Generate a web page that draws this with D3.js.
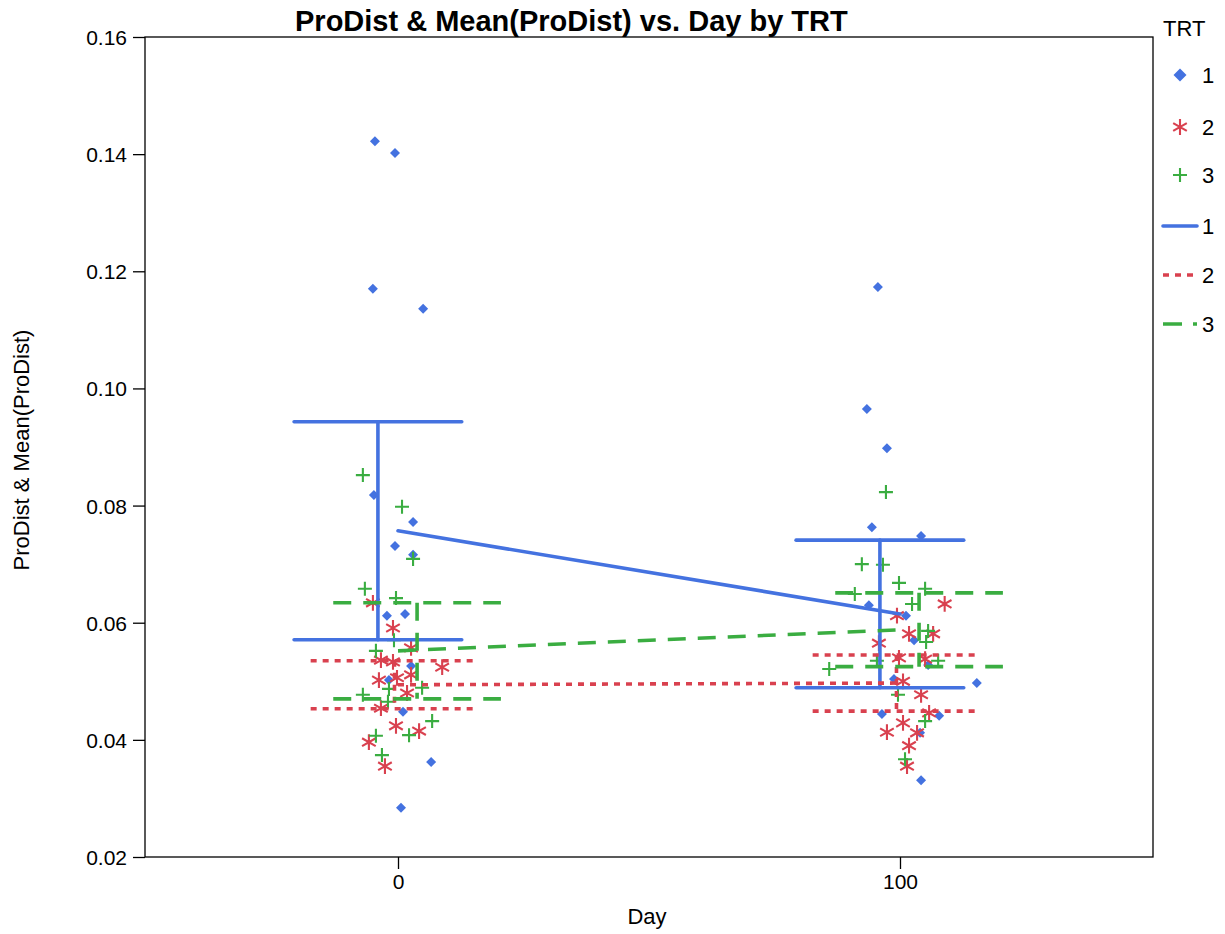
<!DOCTYPE html>
<html>
<head>
<meta charset="utf-8">
<script src="https://cdn.jsdelivr.net/npm/d3@7"></script>
<style>
  html, body { margin: 0; padding: 0; background: #fff; }
  svg text { font-family: "Liberation Sans", Arial, sans-serif; fill: #000; }
</style>
</head>
<body>
<svg id="chart" width="1225" height="934"></svg>
<script>
// ---- data ----
const groups = ["1", "2", "3"];
const dayTicks = [0, 100];
const valueTicks = [0.02, 0.04, 0.06, 0.08, 0.10, 0.12, 0.14, 0.16];

// raw observations (jittered day, ProDist) per TRT
const trt1Day = [-4.6, -0.6, -5.0, 5.0, -4.8, 3.0, -0.6, 3.0, -2.2, 1.4, 2.6, -1.8, 1.0, 6.6, 0.6,
                 95.6, 93.4, 97.4, 94.4, 104.2, 93.8, 101.2, 102.8, 98.8, 105.6, 96.4, 107.8, 104.0, 104.2, 115.3];
const trt1Val = [0.1422, 0.1402, 0.1170, 0.1136, 0.0818, 0.0772, 0.0731, 0.0716, 0.0612, 0.0615, 0.0526, 0.0502, 0.0448, 0.0362, 0.0284,
                 0.1173, 0.0965, 0.0898, 0.0763, 0.0748, 0.0630, 0.0612, 0.0570, 0.0504, 0.0528, 0.0444, 0.0441, 0.0412, 0.0331, 0.0497];

const trt2Day = [-5.0, -1.0, 2.6, -3.4, -1.0, 8.8, 2.6, -3.8, -0.2, 1.8, -3.4, -0.4, 4.2, -5.8, -2.6,
                 108.9, 99.4, 101.8, 106.6, 95.8, 99.8, 105.0, 100.6, 104.2, 105.8, 100.6, 97.4, 103.4, 101.8, 101.4];
const trt2Val = [0.0634, 0.0591, 0.0557, 0.0536, 0.0533, 0.0524, 0.0511, 0.0502, 0.0506, 0.0480, 0.0454, 0.0424, 0.0415, 0.0396, 0.0355,
                 0.0632, 0.0612, 0.0581, 0.0581, 0.0565, 0.0540, 0.0538, 0.0500, 0.0477, 0.0446, 0.0429, 0.0413, 0.0412, 0.0390, 0.0355];

const trt3Day = [-7.0, 0.8, 3.0, -6.6, -0.4, -0.8, -4.4, -1.8, 4.8, -7.0, -2.0, 6.8, 2.2, -4.4, -3.2,
                 97.2, 92.4, 96.6, 99.8, 105.0, 91.0, 102.4, 105.6, 105.2, 85.9, 95.4, 107.6, 99.6, 105.0, 101.0];
const trt3Val = [0.0852, 0.0798, 0.0709, 0.0658, 0.0642, 0.0570, 0.0552, 0.0487, 0.0489, 0.0477, 0.0465, 0.0432, 0.0408, 0.0407, 0.0374,
                 0.0823, 0.0700, 0.0699, 0.0668, 0.0658, 0.0649, 0.0632, 0.0586, 0.0567, 0.0521, 0.0535, 0.0535, 0.0477, 0.0432, 0.0367];

// group means at day 0 and day 100, with error-bar half widths
const meanDays = [0, 100];
const trt1Mean = [0.0757, 0.0615];
const trt1Err  = [0.0186, 0.0126];
const trt2Mean = [0.0494, 0.0497];
const trt2Err  = [0.0041, 0.0048];
const trt3Mean = [0.0552, 0.0588];
const trt3Err  = [0.0082, 0.0063];

// ---- layout ----
const svg = d3.select("#chart");
const plot = { left: 145, right: 1153, top: 37, bottom: 857 };
const x = d3.scaleLinear().domain([-50.4, 150.4]).range([plot.left, plot.right]);
const y = d3.scaleLinear().domain([0.02, 0.16]).range([plot.bottom, plot.top]);

const colors = { "1": "#4472E0", "2": "#D9414F", "3": "#3AAD41" };
const dashes = { "1": null, "2": "6,6", "3": "18,12" };
const barShift = { "1": -4.0, "2": -0.7, "3": 3.8 };   // cluster offset of the error bars (days)
const capHalf = 16.7;                                     // half cap width (days)

const series = {
  "1": { day: trt1Day, val: trt1Val, mean: trt1Mean, err: trt1Err },
  "2": { day: trt2Day, val: trt2Val, mean: trt2Mean, err: trt2Err },
  "3": { day: trt3Day, val: trt3Val, mean: trt3Mean, err: trt3Err }
};

// marker shapes
const diamondPath = r => `M0,${-r}L${r},0L0,${r}L${-r},0Z`;
const asteriskPath = d3.symbol().type(d3.symbolAsterisk).size(175)();
const plusPath = d3.symbol().type(d3.symbolPlus).size(66)();

function drawMarker(sel, g, big) {
  if (g === "1") {
    sel.append("path").attr("d", diamondPath(big ? 6.5 : 5)).attr("fill", colors[g]);
  } else if (g === "2") {
    sel.append("path").attr("d", asteriskPath).attr("fill", "none")
      .attr("stroke", colors[g]).attr("stroke-width", 2.1);
  } else {
    sel.append("path").attr("d", plusPath).attr("fill", "none")
      .attr("stroke", colors[g]).attr("stroke-width", 2.1);
  }
}

// ---- frame ----
svg.append("rect")
  .attr("x", plot.left).attr("y", plot.top)
  .attr("width", plot.right - plot.left).attr("height", plot.bottom - plot.top)
  .attr("fill", "none").attr("stroke", "#000").attr("stroke-width", 1.3);

// ---- axes ----
const yAxis = d3.axisLeft(y).tickValues(valueTicks).tickFormat(d3.format(".2f"))
  .tickSize(12).tickPadding(6);
const yG = svg.append("g").attr("transform", `translate(${plot.left},0)`).call(yAxis);
const xAxis = d3.axisBottom(x).tickValues(dayTicks).tickFormat(d3.format("d"))
  .tickSize(12).tickPadding(5);
const xG = svg.append("g").attr("transform", `translate(0,${plot.bottom})`).call(xAxis);
[yG, xG].forEach(g => {
  g.select(".domain").remove();
  g.selectAll(".tick line").attr("stroke", "#000").attr("stroke-width", 1.3);
  g.selectAll(".tick text").attr("font-size", 21)
    .attr("font-family", "'Liberation Sans', Arial, sans-serif").attr("fill", "#000");
});
yG.selectAll(".tick text").attr("dy", "0.36em");
xG.selectAll(".tick text").attr("dy", "0.71em");

// ---- observations ----
groups.forEach(g => {
  const s = series[g];
  const pts = s.day.map((d, i) => ({ d, v: s.val[i] }));
  svg.append("g").selectAll("g").data(pts).join("g")
    .attr("transform", p => `translate(${x(p.d)},${y(p.v)})`)
    .each(function () { drawMarker(d3.select(this), g, false); });
});

// ---- mean lines and error bars ----
groups.forEach(g => {
  const s = series[g];
  const layer = svg.append("g")
    .attr("stroke", colors[g]).attr("stroke-width", 3.6).attr("fill", "none")
    .attr("stroke-linecap", g === "1" ? "round" : "butt");
  if (dashes[g]) layer.attr("stroke-dasharray", dashes[g]);

  const line = d3.line().x(d => x(d[0])).y(d => y(d[1]));
  layer.append("path").attr("d", line(meanDays.map((d, i) => [d, s.mean[i]])));

  meanDays.forEach((d, i) => {
    const cx = d + barShift[g];
    const lo = s.mean[i] - s.err[i], hi = s.mean[i] + s.err[i];
    layer.append("line").attr("x1", x(cx)).attr("x2", x(cx)).attr("y1", y(hi)).attr("y2", y(lo));
    [hi, lo].forEach(v => {
      layer.append("line").attr("x1", x(cx - capHalf)).attr("x2", x(cx + capHalf))
        .attr("y1", y(v)).attr("y2", y(v));
    });
  });
});

// ---- titles ----
svg.append("text").attr("x", 295).attr("y", 31)
  .attr("font-size", 29).attr("font-weight", "bold")
  .text("ProDist & Mean(ProDist) vs. Day by TRT");
svg.append("text").attr("x", (x(0) + x(100)) / 2 - 2).attr("y", 924)
  .attr("text-anchor", "middle").attr("font-size", 22).text("Day");
svg.append("text").attr("transform", "translate(29,450) rotate(-90)")
  .attr("text-anchor", "middle").attr("font-size", 22).text("ProDist & Mean(ProDist)");

// ---- legend ----
const legend = svg.append("g");
legend.append("text").attr("x", 1163).attr("y", 36).attr("font-size", 22).text("TRT");
const markerRows = [75, 127, 175];
groups.forEach((g, i) => {
  const row = legend.append("g").attr("transform", `translate(1180,${markerRows[i]})`);
  drawMarker(row, g, true);
  legend.append("text").attr("x", 1202).attr("y", markerRows[i] + 8).attr("font-size", 22).text(g);
});
const lineRows = [226, 275, 324];
groups.forEach((g, i) => {
  const l = legend.append("line").attr("x1", 1163).attr("x2", 1197)
    .attr("y1", lineRows[i]).attr("y2", lineRows[i])
    .attr("stroke", colors[g]).attr("stroke-width", 3.6)
    .attr("stroke-linecap", g === "1" ? "round" : "butt");
  if (dashes[g]) l.attr("stroke-dasharray", g === "3" ? "19,11" : dashes[g]);
  legend.append("text").attr("x", 1202).attr("y", lineRows[i] + 8).attr("font-size", 22).text(g);
});
</script>
</body>
</html>
